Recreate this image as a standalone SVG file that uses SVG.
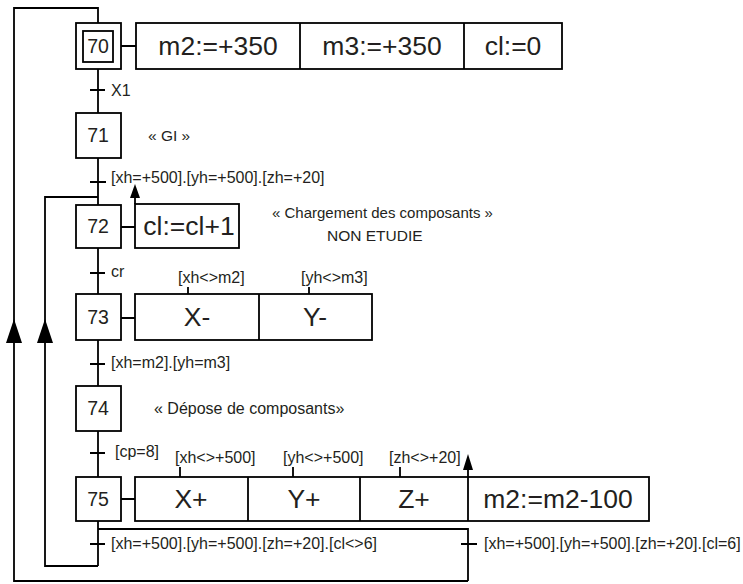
<svg xmlns="http://www.w3.org/2000/svg" width="743" height="584" viewBox="0 0 743 584">
<style>
.box{fill:#fff;stroke:#000;stroke-width:1.8}
.ln{fill:none;stroke:#000;stroke-width:1.8}
.ah{fill:#000;stroke:none}
text{font-family:"Liberation Sans",Arial,sans-serif;fill:#231f20}
.num{font-size:19.5px;text-anchor:middle}
.act{font-size:26.5px;text-anchor:middle}
.lbl{font-size:16px}
.cmt{font-size:15.5px}
</style>
<rect width="743" height="584" fill="#fff"/>
<g id="connectors">
<path class="ln" d="M98 69V113M98 158V205M98 248V294M98 340V386M98 431V477M98 521V566"/>
<path class="ln" d="M98 529H468V581"/>
<path class="ln" d="M98 566H45V197H98"/>
<path class="ln" d="M468 581H14V8H98V23"/>
<polygon class="ah" points="14,319 6,343 22,343"/>
<polygon class="ah" points="45,319 37,343 53,343"/>
<path class="ln" d="M135 198V204"/>
<polygon class="ah" points="135,184 130,198 140,198"/>
<path class="ln" d="M468 470V477"/>
<polygon class="ah" points="468,454 463,470 473,470"/>
<path class="ln" d="M90 90H105M90 182H106M90 273H105M90 364H105M90 453H105M90 544H105M461 544H477"/>
<path class="ln" d="M121 46H136M121 227H135M121 318H135M121 499H135"/>
<path class="ln" d="M188 287V294M309 287V294M180 467V477M293 467V477M400 467V477"/>
</g>
<g id="labels">
<text class="lbl" x="111" y="96">X1</text>
<text class="lbl" x="111" y="183">[xh=+500].[yh=+500].[zh=+20]</text>
<text class="lbl" x="111" y="277">cr</text>
<text class="lbl" x="178" y="283">[xh&lt;&gt;m2]</text>
<text class="lbl" x="301" y="283">[yh&lt;&gt;m3]</text>
<text class="lbl" x="111" y="368">[xh=m2].[yh=m3]</text>
<text class="lbl" x="115" y="457">[cp=8]</text>
<text class="lbl" x="175" y="463">[xh&lt;&gt;+500]</text>
<text class="lbl" x="283" y="463">[yh&lt;&gt;+500]</text>
<text class="lbl" x="389" y="463">[zh&lt;&gt;+20]</text>
<text class="lbl" x="111" y="549">[xh=+500].[yh=+500].[zh=+20].[cl&lt;&gt;6]</text>
<text class="lbl" x="484" y="549">[xh=+500].[yh=+500].[zh=+20].[cl=6]</text>
<text class="cmt" x="148" y="141">« GI »</text>
<text class="cmt" x="272" y="218" style="font-size:15px">« Chargement des composants »</text>
<text class="cmt" x="327" y="241">NON ETUDIE</text>
<text class="cmt" x="154" y="414" style="font-size:16px">« Dépose de composants»</text>
</g>
<g id="step70">
<rect class="box" x="76" y="23" width="45" height="46"/>
<rect class="box" x="83" y="31" width="30" height="31"/>
<text class="num" x="98" y="53">70</text>
</g>
<g id="action70">
<rect class="box" x="136" y="23" width="426" height="46"/>
<path class="ln" d="M300 23V69M464 23V69"/>
<text class="act" x="218" y="55">m2:=+350</text>
<text class="act" x="382" y="55">m3:=+350</text>
<text class="act" x="513" y="55">cl:=0</text>
</g>
<g id="step71">
<rect class="box" x="76" y="113" width="45" height="45"/>
<text class="num" x="98" y="142">71</text>
</g>
<g id="step72">
<rect class="box" x="76" y="205" width="45" height="43"/>
<text class="num" x="98" y="233">72</text>
</g>
<g id="action72">
<rect class="box" x="135" y="204" width="104" height="44"/>
<text class="act" x="189" y="235">cl:=cl+1</text>
</g>
<g id="step73">
<rect class="box" x="76" y="294" width="45" height="46"/>
<text class="num" x="98" y="324">73</text>
</g>
<g id="action73">
<rect class="box" x="135" y="294" width="237" height="46"/>
<path class="ln" d="M259 294V340"/>
<text class="act" x="197" y="326">X-</text>
<text class="act" x="315" y="326">Y-</text>
</g>
<g id="step74">
<rect class="box" x="76" y="386" width="45" height="45"/>
<text class="num" x="98" y="415">74</text>
</g>
<g id="step75">
<rect class="box" x="76" y="477" width="45" height="44"/>
<text class="num" x="98" y="506">75</text>
</g>
<g id="action75">
<rect class="box" x="135" y="477" width="514" height="44"/>
<path class="ln" d="M248 477V521M360 477V521M468 477V521"/>
<text class="act" x="191" y="508">X+</text>
<text class="act" x="304" y="508">Y+</text>
<text class="act" x="414" y="508">Z+</text>
<text class="act" x="558" y="508">m2:=m2-100</text>
</g>
</svg>
